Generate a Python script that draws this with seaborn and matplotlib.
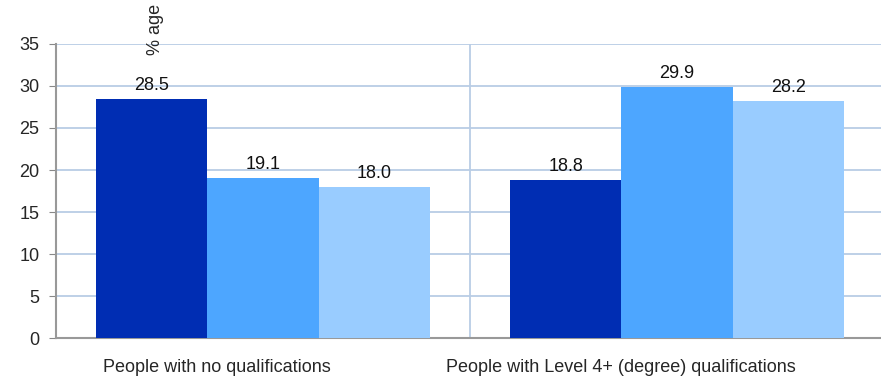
import pandas as pd
import numpy as np
import matplotlib.pyplot as plt
import seaborn as sns

# values
groups = ["People with no qualifications", "People with Level 4+ (degree) qualifications"]
series = ["Series 1", "Series 2", "Series 3"]
values = {
    "Series 1": [28.5, 18.8],
    "Series 2": [19.1, 29.9],
    "Series 3": [18.0, 28.2],
}
colours = ["#002DB3", "#4DA6FF", "#99CCFF"]
yticks = [0, 5, 10, 15, 20, 25, 30, 35]

rows = []
for s in series:
    for g, v in zip(groups, values[s]):
        rows.append({"group": g, "series": s, "value": v})
df = pd.DataFrame(rows)

sns.set_style("white")
plt.rcParams['font.family'] = ['Liberation Sans', 'DejaVu Sans']

fig = plt.figure(figsize=(8.81, 3.79), dpi=100)
ax = fig.add_axes([0.0636, 0.108, 0.94, 0.776])

sns.barplot(data=df, x="group", y="value", hue="series", palette=colours,
            width=0.807, gap=0, saturation=1, legend=False, ax=ax, zorder=3,
            linewidth=0)

for c in ax.containers:
    ax.bar_label(c, fmt="%.1f", padding=3.5, fontsize=13, color="#111111")

ax.set_ylim(0, 35)
ax.set_yticks(yticks)
ax.set_xlim(-0.5, 1.49)
ax.set_xlabel("")
ax.set_ylabel("")

# category labels sit a little left of the bar groups, as in the original
ax.set_xticks([-0.111, 0.865])
ax.set_xticklabels(groups)

# gridlines and separator between groups
ax.yaxis.grid(True, color="#B9CDE5", linewidth=1.3, zorder=0)
ax.set_xticks([-0.5, 0.5, 1.5], minor=True)
ax.xaxis.grid(True, which="minor", color="#B9CDE5", linewidth=1.3, zorder=0)
ax.tick_params(axis="x", which="major", length=0, labelsize=13, pad=15)
ax.tick_params(axis="x", which="minor", length=5, color="#888888", direction="out")
ax.tick_params(axis="y", length=5, color="#888888", labelsize=13, left=True, pad=7)

for side in ["top", "right"]:
    ax.spines[side].set_visible(False)
for side in ["left", "bottom"]:
    ax.spines[side].set_color("#999999")
    ax.spines[side].set_linewidth(1.5)
ax.set_axisbelow(True)

fig.text(0.176, 0.99, "% age", rotation=90, ha="center", va="top", fontsize=13)

fig.savefig("out.png", dpi=100)
